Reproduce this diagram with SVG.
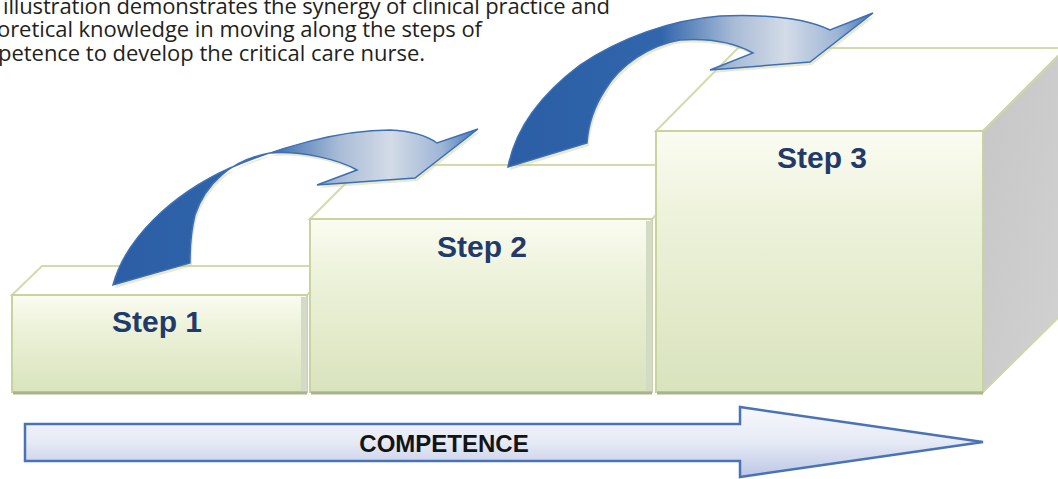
<svg xmlns="http://www.w3.org/2000/svg" width="1058" height="479" viewBox="0 0 1058 479">
<defs>
<linearGradient id="front" x1="0" y1="0" x2="0" y2="1">
<stop offset="0" stop-color="#fbfcf2"/>
<stop offset="0.3" stop-color="#eef3dc"/>
<stop offset="1" stop-color="#d9e3bd"/>
</linearGradient>
<linearGradient id="side" x1="0" y1="0" x2="1" y2="1">
<stop offset="0" stop-color="#c6c6c6"/>
<stop offset="1" stop-color="#d2d2d2"/>
</linearGradient>
<linearGradient id="curve" x1="0" y1="0.5" x2="1" y2="0.5">
<stop offset="0" stop-color="#2b5ea4"/>
<stop offset="0.42" stop-color="#3166ac"/>
<stop offset="0.62" stop-color="#a9bcd6"/>
<stop offset="0.76" stop-color="#d3dbe7"/>
<stop offset="0.9" stop-color="#9fb6d6"/>
<stop offset="1" stop-color="#3f73b8"/>
</linearGradient>
<linearGradient id="comp" x1="0" y1="0" x2="0" y2="1">
<stop offset="0" stop-color="#f7f8fc"/>
<stop offset="0.5" stop-color="#e6eaf5"/>
<stop offset="1" stop-color="#bcc7e5"/>
</linearGradient>
<style>
.caption{font-family:"Open Sans","Noto Sans",sans-serif;font-size:22px;fill:#231f20}
.top{fill:#ffffff;stroke:#d3dbab;stroke-width:2}
.face{fill:url(#front);stroke:#c9d39e;stroke-width:2}
.shade{fill:#d3dac6}
.base{stroke:#aab48a;stroke-width:3}
.lbl{font-family:"Liberation Sans",Arial,sans-serif;font-weight:bold;font-size:30px;fill:#223a6a;text-anchor:middle}
.arc{fill:url(#curve);stroke:#3d6fb5;stroke-width:1.5;stroke-linejoin:miter}
.arcshadow{fill:#c9cf98;opacity:0.45}
</style>
</defs>
<rect width="1058" height="479" fill="#ffffff"/>
<g id="caption">
<text class="caption" x="3" y="14" textLength="607">illustration demonstrates the synergy of clinical practice and</text>
<text class="caption" x="-3" y="37" textLength="485">oretical knowledge in moving along the steps of</text>
<text class="caption" x="-2" y="61" textLength="427">petence to develop the critical care nurse.</text>
</g>
<g id="step1">
<polygon class="top" points="12,295 42,266 337,266 307,295"/>
<rect class="face" x="12" y="295" width="295" height="97"/>
<rect class="shade" x="301" y="297" width="6" height="94"/>
<line class="base" x1="13" y1="393" x2="307" y2="393"/>
<text class="lbl" x="157" y="332">Step 1</text>
</g>
<g id="step2">
<polygon class="top" points="310,219 364,165 706,165 652,219"/>
<rect class="face" x="310" y="219" width="342" height="173"/>
<rect class="shade" x="646" y="221" width="6" height="170"/>
<line class="base" x1="311" y1="393" x2="652" y2="393"/>
<text class="lbl" x="482" y="257">Step 2</text>
</g>
<g id="step3">
<polygon class="top" points="656,131 738,48 1066,48 983,131"/>
<polygon points="983,131 1066,48 1066,310 983,392" fill="url(#side)" stroke="#cfd6a8" stroke-width="2"/>
<rect class="face" x="656" y="131" width="327" height="261"/>
<line class="base" x1="657" y1="393" x2="983" y2="393"/>
<text class="lbl" x="822" y="168">Step 3</text>
</g>
<g id="connectors">
<path class="arcshadow" transform="translate(2,3)" d="M113,285 C125,240 170,195 230,168 C280,147 340,130 390,130 C415,131 430,138 437,143 L478,129 L415,178 L317,185 L357,170 C340,160 300,150 270,153 C230,160 205,185 195,215 C190,235 190,250 190,263 Z"/>
<path class="arc" d="M113,285 C125,240 170,195 230,168 C280,147 340,130 390,130 C415,131 430,138 437,143 L478,129 L415,178 L317,185 L357,170 C340,160 300,150 270,153 C230,160 205,185 195,215 C190,235 190,250 190,263 Z"/>
<path class="arcshadow" transform="translate(2,3)" d="M508,167 C515,130 540,95 580,65 C620,38 670,20 720,16 C770,14 805,18 830,30 L873,13 L810,62 L710,70 L753,53 C735,43 710,38 680,40 C650,45 620,65 605,90 C592,110 588,128 587,143 Z"/>
<path class="arc" d="M508,167 C515,130 540,95 580,65 C620,38 670,20 720,16 C770,14 805,18 830,30 L873,13 L810,62 L710,70 L753,53 C735,43 710,38 680,40 C650,45 620,65 605,90 C592,110 588,128 587,143 Z"/>
</g>
<g id="competence">
<polygon points="25,424 740,424 740,407 983,442 740,477 740,461 25,461" fill="url(#comp)" stroke="#4a73b7" stroke-width="2.5" stroke-linejoin="miter"/>
<text x="444" y="452" font-family="Liberation Sans, Arial, sans-serif" font-weight="bold" font-size="24" fill="#141414" text-anchor="middle">COMPETENCE</text>
</g>
</svg>
